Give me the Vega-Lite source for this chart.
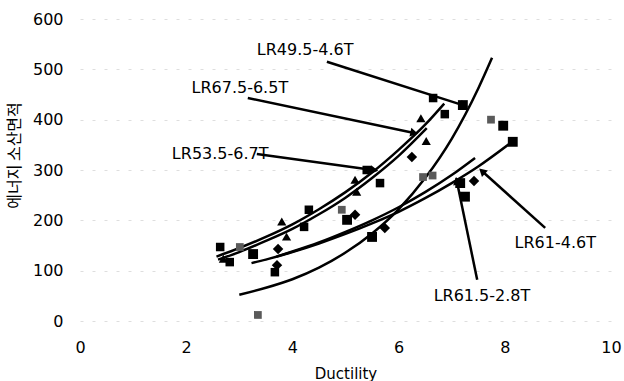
{
  "$schema": "https://vega.github.io/schema/vega-lite/v6.json",
  "width": 531,
  "height": 302,
  "autosize": "none",
  "padding": {"left": 80, "top": 19, "right": 13, "bottom": 60},
  "background": "white",
  "datasets": {
    "points": [
      {"series": "LR49.5-4.6T", "x": 3.01, "y": 147},
      {"series": "LR49.5-4.6T", "x": 3.35, "y": 12},
      {"series": "LR49.5-4.6T", "x": 4.93, "y": 221},
      {"series": "LR49.5-4.6T", "x": 6.46, "y": 286},
      {"series": "LR49.5-4.6T", "x": 6.64, "y": 289},
      {"series": "LR49.5-4.6T", "x": 7.74, "y": 400},
      {"series": "LR53.5-6.7T", "x": 2.64, "y": 147},
      {"series": "LR53.5-6.7T", "x": 2.82, "y": 117},
      {"series": "LR53.5-6.7T", "x": 3.67, "y": 97},
      {"series": "LR53.5-6.7T", "x": 4.22, "y": 187},
      {"series": "LR53.5-6.7T", "x": 4.31, "y": 221},
      {"series": "LR53.5-6.7T", "x": 5.40, "y": 300},
      {"series": "LR53.5-6.7T", "x": 5.65, "y": 274},
      {"series": "LR53.5-6.7T", "x": 6.65, "y": 443},
      {"series": "LR53.5-6.7T", "x": 6.87, "y": 411},
      {"series": "LR67.5-6.5T", "x": 2.70, "y": 121},
      {"series": "LR67.5-6.5T", "x": 3.80, "y": 195},
      {"series": "LR67.5-6.5T", "x": 3.89, "y": 165},
      {"series": "LR67.5-6.5T", "x": 5.18, "y": 278},
      {"series": "LR67.5-6.5T", "x": 5.21, "y": 254},
      {"series": "LR67.5-6.5T", "x": 6.42, "y": 400},
      {"series": "LR67.5-6.5T", "x": 6.52, "y": 355},
      {"series": "LR61-4.6T", "x": 3.26, "y": 133},
      {"series": "LR61-4.6T", "x": 5.03, "y": 201},
      {"series": "LR61-4.6T", "x": 5.50, "y": 167},
      {"series": "LR61-4.6T", "x": 7.16, "y": 274},
      {"series": "LR61-4.6T", "x": 7.21, "y": 429},
      {"series": "LR61-4.6T", "x": 7.25, "y": 247},
      {"series": "LR61-4.6T", "x": 7.97, "y": 388},
      {"series": "LR61-4.6T", "x": 8.15, "y": 356},
      {"series": "LR61.5-2.8T", "x": 3.71, "y": 111},
      {"series": "LR61.5-2.8T", "x": 3.73, "y": 143},
      {"series": "LR61.5-2.8T", "x": 5.18, "y": 211},
      {"series": "LR61.5-2.8T", "x": 5.74, "y": 185},
      {"series": "LR61.5-2.8T", "x": 6.25, "y": 326},
      {"series": "LR61.5-2.8T", "x": 7.42, "y": 278}
    ],
    "trend": [
      {"series": "LR49.5-4.6T", "x": 3.0, "y": 52},
      {"series": "LR49.5-4.6T", "x": 3.5, "y": 66},
      {"series": "LR49.5-4.6T", "x": 4.0, "y": 83},
      {"series": "LR49.5-4.6T", "x": 4.5, "y": 106},
      {"series": "LR49.5-4.6T", "x": 5.0, "y": 136},
      {"series": "LR49.5-4.6T", "x": 5.5, "y": 174},
      {"series": "LR49.5-4.6T", "x": 6.0, "y": 222},
      {"series": "LR49.5-4.6T", "x": 6.5, "y": 284},
      {"series": "LR49.5-4.6T", "x": 7.0, "y": 362},
      {"series": "LR49.5-4.6T", "x": 7.5, "y": 462},
      {"series": "LR49.5-4.6T", "x": 7.76, "y": 523},
      {"series": "LR53.5-6.7T", "x": 2.57, "y": 128},
      {"series": "LR53.5-6.7T", "x": 3.0, "y": 145},
      {"series": "LR53.5-6.7T", "x": 3.5, "y": 167},
      {"series": "LR53.5-6.7T", "x": 4.0, "y": 192},
      {"series": "LR53.5-6.7T", "x": 4.5, "y": 222},
      {"series": "LR53.5-6.7T", "x": 5.0, "y": 256},
      {"series": "LR53.5-6.7T", "x": 5.5, "y": 295},
      {"series": "LR53.5-6.7T", "x": 6.0, "y": 340},
      {"series": "LR53.5-6.7T", "x": 6.5, "y": 390},
      {"series": "LR53.5-6.7T", "x": 6.86, "y": 432},
      {"series": "LR67.5-6.5T", "x": 2.6, "y": 122},
      {"series": "LR67.5-6.5T", "x": 3.0, "y": 137},
      {"series": "LR67.5-6.5T", "x": 3.5, "y": 159},
      {"series": "LR67.5-6.5T", "x": 4.0, "y": 183},
      {"series": "LR67.5-6.5T", "x": 4.5, "y": 212},
      {"series": "LR67.5-6.5T", "x": 5.0, "y": 245},
      {"series": "LR67.5-6.5T", "x": 5.5, "y": 284},
      {"series": "LR67.5-6.5T", "x": 6.0, "y": 328},
      {"series": "LR67.5-6.5T", "x": 6.53, "y": 383},
      {"series": "LR61-4.6T", "x": 3.23, "y": 115},
      {"series": "LR61-4.6T", "x": 3.5, "y": 122},
      {"series": "LR61-4.6T", "x": 4.0, "y": 137},
      {"series": "LR61-4.6T", "x": 4.5, "y": 154},
      {"series": "LR61-4.6T", "x": 5.0, "y": 173},
      {"series": "LR61-4.6T", "x": 5.5, "y": 194},
      {"series": "LR61-4.6T", "x": 6.0, "y": 217},
      {"series": "LR61-4.6T", "x": 6.5, "y": 244},
      {"series": "LR61-4.6T", "x": 7.0, "y": 274},
      {"series": "LR61-4.6T", "x": 7.5, "y": 307},
      {"series": "LR61-4.6T", "x": 8.1, "y": 353},
      {"series": "LR61.5-2.8T", "x": 3.7, "y": 128},
      {"series": "LR61.5-2.8T", "x": 4.0, "y": 138},
      {"series": "LR61.5-2.8T", "x": 4.5, "y": 156},
      {"series": "LR61.5-2.8T", "x": 5.0, "y": 177},
      {"series": "LR61.5-2.8T", "x": 5.5, "y": 200},
      {"series": "LR61.5-2.8T", "x": 6.0, "y": 226},
      {"series": "LR61.5-2.8T", "x": 6.5, "y": 256},
      {"series": "LR61.5-2.8T", "x": 7.0, "y": 290},
      {"series": "LR61.5-2.8T", "x": 7.44, "y": 324}
    ],
    "notes": [
      {"label": "LR49.5-4.6T", "tx": 4.24, "ty": 539, "x1": 4.65, "y1": 515, "x2": 7.21, "y2": 429},
      {"label": "LR67.5-6.5T", "tx": 3.01, "ty": 463, "x1": 3.16, "y1": 443, "x2": 6.27, "y2": 374},
      {"label": "LR53.5-6.7T", "tx": 2.64, "ty": 332, "x1": 3.33, "y1": 332, "x2": 5.52, "y2": 300},
      {"label": "LR61-4.6T", "tx": 8.95, "ty": 155, "x1": 8.76, "y1": 185, "x2": 7.59, "y2": 296},
      {"label": "LR61.5-2.8T", "tx": 7.57, "ty": 50, "x1": 7.48, "y1": 82, "x2": 7.10, "y2": 276}
    ]
  },
  "layer": [
    {
      "data": {"name": "trend"},
      "mark": {"type": "line", "color": "black", "strokeWidth": 2.5, "interpolate": "monotone"},
      "encoding": {
        "x": {"field": "x", "type": "quantitative", "scale": {"domain": [0, 10], "nice": false}, "title": "Ductility",
          "axis": {"values": [0, 2, 4, 6, 8, 10]}},
        "y": {"field": "y", "type": "quantitative", "scale": {"domain": [0, 600], "nice": false}, "title": "에너지 소산면적",
          "axis": {"values": [0, 100, 200, 300, 400, 500, 600]}},
        "detail": {"field": "series"}
      }
    },
    {
      "data": {"name": "notes"},
      "mark": {"type": "rule", "color": "black", "strokeWidth": 2.5},
      "encoding": {
        "x": {"field": "x1", "type": "quantitative", "title": "Ductility"},
        "y": {"field": "y1", "type": "quantitative", "title": "에너지 소산면적"},
        "x2": {"field": "x2"},
        "y2": {"field": "y2"}
      }
    },
    {
      "data": {"name": "notes"},
      "mark": {"type": "point", "shape": "triangle", "filled": true, "color": "black", "opacity": 1, "size": 80},
      "encoding": {
        "x": {"field": "x2", "type": "quantitative", "title": "Ductility"},
        "y": {"field": "y2", "type": "quantitative", "title": "에너지 소산면적"},
        "angle": {"field": "label", "type": "nominal", "legend": null,
          "scale": {"type": "ordinal", "domain": ["LR49.5-4.6T", "LR67.5-6.5T", "LR53.5-6.7T", "LR61-4.6T", "LR61.5-2.8T"], "range": [107.5, 102, 98, 312, 348.5]}}
      }
    },
    {
      "data": {"name": "points"},
      "mark": {"type": "point", "filled": true, "opacity": 1},
      "encoding": {
        "x": {"field": "x", "type": "quantitative", "title": "Ductility"},
        "y": {"field": "y", "type": "quantitative", "title": "에너지 소산면적"},
        "shape": {"field": "series", "type": "nominal", "legend": null,
          "scale": {"domain": ["LR49.5-4.6T", "LR53.5-6.7T", "LR67.5-6.5T", "LR61-4.6T", "LR61.5-2.8T"], "range": ["square", "square", "triangle", "square", "diamond"]}},
        "color": {"field": "series", "type": "nominal", "legend": null,
          "scale": {"domain": ["LR49.5-4.6T", "LR53.5-6.7T", "LR67.5-6.5T", "LR61-4.6T", "LR61.5-2.8T"], "range": ["#5a5a5a", "#000000", "#000000", "#000000", "#000000"]}},
        "size": {"field": "series", "type": "nominal", "legend": null,
          "scale": {"domain": ["LR49.5-4.6T", "LR53.5-6.7T", "LR67.5-6.5T", "LR61-4.6T", "LR61.5-2.8T"], "range": [60, 110, 30, 110, 45]}}
      }
    },
    {
      "data": {"name": "notes"},
      "mark": {"type": "text", "font": "DejaVu Sans", "fontSize": 16, "color": "black", "align": "center", "baseline": "middle"},
      "encoding": {
        "x": {"field": "tx", "type": "quantitative", "title": "Ductility"},
        "y": {"field": "ty", "type": "quantitative", "title": "에너지 소산면적"},
        "text": {"field": "label"}
      }
    }
  ],
  "config": {
    "view": {"stroke": null},
    "axis": {
      "domain": false,
      "ticks": false,
      "tickSize": 0,
      "labelFont": "DejaVu Sans",
      "labelFontSize": 16,
      "labelColor": "#000000",
      "labelFlush": false,
      "labelOverlap": false,
      "titleColor": "#000000",
      "titleFontWeight": "normal"
    },
    "axisX": {
      "grid": false,
      "labelPadding": 18,
      "titleFont": "DejaVu Sans",
      "titleFontSize": 15,
      "titleY": 57,
      "titleBaseline": "alphabetic"
    },
    "axisY": {
      "grid": true,
      "gridColor": "#dedede",
      "gridDash": [3, 9],
      "labelPadding": 17,
      "titleFont": "Noto Sans CJK KR",
      "titleFontSize": 16,
      "titleX": -66,
      "titleY": 136,
      "titleAngle": -90,
      "titleAlign": "center",
      "titleBaseline": "middle"
    }
  }
}
